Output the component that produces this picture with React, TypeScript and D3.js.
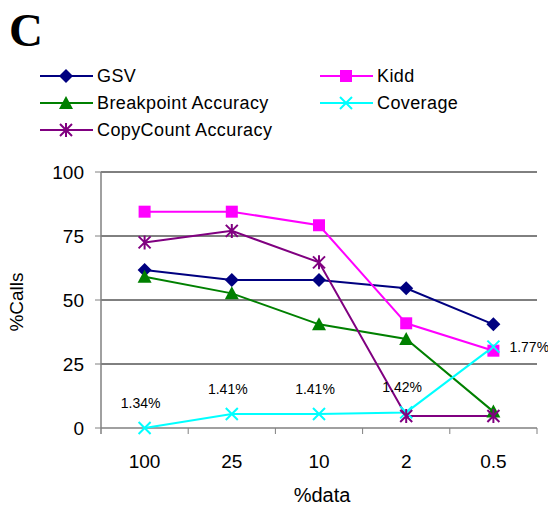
import React from "react";
import * as d3 from "d3";

const categories = ["100", "25", "10", "2", "0.5"];
const yTicks = [0, 25, 50, 75, 100];
const gsv = [61.7, 57.8, 57.8, 54.6, 40.5];
const kidd = [84.5, 84.5, 79.2, 40.9, 30.2];
const breakpoint = [59.1, 52.6, 40.5, 34.8, 6.4];
const copyCount = [72.5, 77, 64.7, 4.7, 4.7];
const coverage = [0, 5.5, 5.5, 6.1, 31.8];
const coverageLabels = ["1.34%", "1.41%", "1.41%", "1.42%", "1.77%"];

const series = [
  { name: "GSV", values: gsv, color: "#000080", marker: "diamond" },
  { name: "Kidd", values: kidd, color: "#FF00FF", marker: "square" },
  { name: "Breakpoint Accuracy", values: breakpoint, color: "#008000", marker: "triangle" },
  { name: "Coverage", values: coverage, color: "#00FFFF", marker: "x" },
  { name: "CopyCount Accuracy", values: copyCount, color: "#800080", marker: "star" },
];

const FONT = "'Liberation Sans', Arial, sans-serif";

function Marker({ type, x, y, color }: { type: string; x: number; y: number; color: string }) {
  const s = 6;
  if (type === "diamond")
    return <path d={`M${x},${y - s - 1}L${x + s + 1},${y}L${x},${y + s + 1}L${x - s - 1},${y}Z`} fill={color} />;
  if (type === "square") return <rect x={x - s} y={y - s} width={2 * s} height={2 * s} fill={color} />;
  if (type === "triangle")
    return <path d={`M${x},${y - s - 1}L${x + s + 1},${y + s}L${x - s - 1},${y + s}Z`} fill={color} />;
  if (type === "x")
    return (
      <path d={`M${x - s},${y - s}L${x + s},${y + s}M${x - s},${y + s}L${x + s},${y - s}`} stroke={color} strokeWidth={2} />
    );
  return (
    <path
      d={`M${x - s},${y - s}L${x + s},${y + s}M${x - s},${y + s}L${x + s},${y - s}M${x},${y - s - 1}L${x},${y + s + 1}`}
      stroke={color}
      strokeWidth={2}
    />
  );
}

export default function App() {
  const left = 101, right = 537, top = 172, bottom = 428;
  const x = d3.scaleBand<string>().domain(categories).range([left, right]);
  const y = d3.scaleLinear().domain([0, 100]).range([bottom, top]);
  const cx = (c: string) => (x(c) as number) + x.bandwidth() / 2;
  const line = d3
    .line<number>()
    .x((_, i) => cx(categories[i]))
    .y((d) => y(d));

  const legendItems = [
    { s: series[0], lx: 40, ly: 76 },
    { s: series[2], lx: 40, ly: 103 },
    { s: series[4], lx: 40, ly: 130 },
    { s: series[1], lx: 320, ly: 76 },
    { s: series[3], lx: 320, ly: 103 },
  ];

  return (
    <svg width={548} height={510} style={{ position: "absolute", left: 0, top: 0 }}>
      <rect width={548} height={510} fill="#fff" />
      <text x={9} y={46} fontFamily="'Liberation Serif', 'Times New Roman', serif" fontWeight="bold" fontSize={47}>
        C
      </text>
      {legendItems.map(({ s, lx, ly }) => (
        <g key={s.name}>
          <line x1={lx} x2={lx + 53} y1={ly} y2={ly} stroke={s.color} strokeWidth={2} />
          <Marker type={s.marker} x={lx + 26} y={ly} color={s.color} />
          <text x={lx + 57} y={ly} dy="0.35em" fontFamily={FONT} fontSize={18} letterSpacing={0.4}>
            {s.name}
          </text>
        </g>
      ))}
      {yTicks.map((t) => (
        <g key={t}>
          {t > 0 && <line x1={left} x2={right} y1={y(t)} y2={y(t)} stroke="#000" strokeWidth={1} />}
          <line x1={left - 6} x2={left} y1={y(t)} y2={y(t)} stroke="#808080" strokeWidth={1} />
          <text x={left - 17} y={y(t)} dy="0.35em" textAnchor="end" fontFamily={FONT} fontSize={19}>
            {t}
          </text>
        </g>
      ))}
      <line x1={left} x2={left} y1={top} y2={bottom + 6} stroke="#808080" strokeWidth={1.5} />
      <line x1={left} x2={right} y1={bottom} y2={bottom} stroke="#808080" strokeWidth={1.5} />
      {categories.map((c) => (
        <g key={c}>
          <line
            x1={(x(c) as number) + x.bandwidth()}
            x2={(x(c) as number) + x.bandwidth()}
            y1={bottom}
            y2={bottom + 6}
            stroke="#808080"
          />
          <text x={cx(c)} y={461} dy="0.35em" textAnchor="middle" fontFamily={FONT} fontSize={19}>
            {c}
          </text>
        </g>
      ))}
      <text x={322} y={495} dy="0.35em" textAnchor="middle" fontFamily={FONT} fontSize={20}>
        %data
      </text>
      <text
        transform={`translate(16,302) rotate(-90)`}
        dy="0.35em"
        textAnchor="middle"
        fontFamily={FONT}
        fontSize={19}
      >
        %Calls
      </text>
      {series.map((s) => (
        <path key={s.name} d={line(s.values) as string} fill="none" stroke={s.color} strokeWidth={2} />
      ))}
      {series.map((s) =>
        s.values.map((v, i) => <Marker key={s.name + i} type={s.marker} x={cx(categories[i])} y={y(v)} color={s.color} />)
      )}
      {coverage.map((v, i) => {
        const last = i === coverage.length - 1;
        return (
          <text
            key={"lbl" + i}
            x={last ? cx(categories[i]) + 16 : cx(categories[i]) - 4}
            y={last ? y(v) + 5 : y(v) - 20}
            textAnchor={last ? "start" : "middle"}
            fontFamily={FONT}
            fontSize={14}
          >
            {coverageLabels[i]}
          </text>
        );
      })}
    </svg>
  );
}
